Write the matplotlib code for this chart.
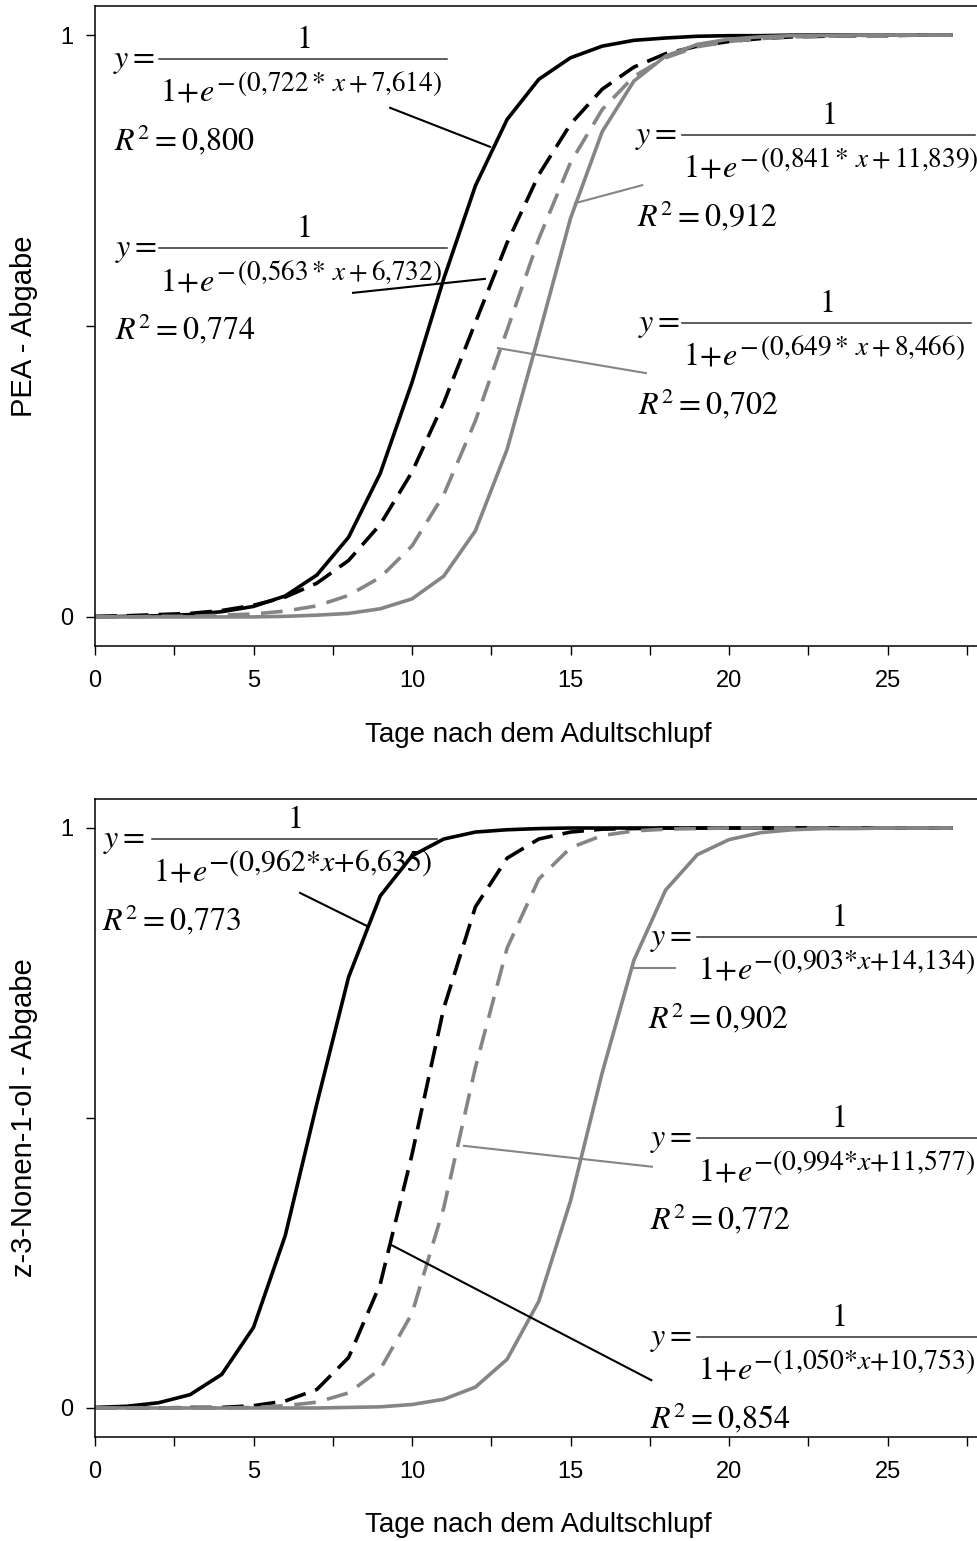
import matplotlib
matplotlib.use("Agg")
import matplotlib.pyplot as plt
from matplotlib.lines import Line2D
from matplotlib.ticker import MultipleLocator, NullLocator

plt.rcParams["font.family"] = ["Liberation Sans", "DejaVu Sans"]
plt.rcParams["mathtext.fontset"] = "stix"

W, H = 977, 1541
GRAY = "#858585"

# Tage 0..27
days = list(range(28))

# PEA - Abgabe (oberes Diagramm)
pea_black_solid = [0.000, 0.001, 0.002, 0.004, 0.009, 0.018, 0.036, 0.072, 0.137, 0.247,
                   0.403, 0.581, 0.741, 0.855, 0.924, 0.961, 0.981, 0.991, 0.995, 0.998,
                   0.999, 0.999, 1.000, 1.000, 1.000, 1.000, 1.000, 1.000]
pea_black_dashed = [0.001, 0.002, 0.004, 0.006, 0.011, 0.020, 0.034, 0.058, 0.097, 0.159,
                    0.249, 0.368, 0.506, 0.643, 0.760, 0.847, 0.907, 0.945, 0.968, 0.981,
                    0.989, 0.994, 0.997, 0.998, 0.999, 0.999, 1.000, 1.000]
pea_gray_dashed = [0.000, 0.000, 0.001, 0.001, 0.003, 0.005, 0.010, 0.019, 0.037, 0.068,
                   0.122, 0.210, 0.337, 0.493, 0.650, 0.781, 0.872, 0.929, 0.961, 0.980,
                   0.989, 0.994, 0.997, 0.998, 0.999, 1.000, 1.000, 1.000]
pea_gray_solid = [0.000, 0.000, 0.000, 0.000, 0.000, 0.000, 0.001, 0.003, 0.006, 0.014,
                  0.031, 0.070, 0.148, 0.288, 0.484, 0.685, 0.834, 0.921, 0.964, 0.984,
                  0.993, 0.997, 0.999, 0.999, 1.000, 1.000, 1.000, 1.000]

# z-3-Nonen-1-ol - Abgabe (unteres Diagramm)
non_black_solid = [0.001, 0.003, 0.009, 0.023, 0.058, 0.139, 0.297, 0.525, 0.743, 0.883,
                   0.952, 0.981, 0.993, 0.997, 0.999, 1.000, 1.000, 1.000, 1.000, 1.000,
                   1.000, 1.000, 1.000, 1.000, 1.000, 1.000, 1.000, 1.000]
non_black_dashed = [0.000, 0.000, 0.000, 0.001, 0.001, 0.004, 0.012, 0.032, 0.087, 0.214,
                    0.437, 0.689, 0.864, 0.948, 0.981, 0.993, 0.998, 0.999, 1.000, 1.000,
                    1.000, 1.000, 1.000, 1.000, 1.000, 1.000, 1.000, 1.000]
non_gray_dashed = [0.000, 0.000, 0.000, 0.000, 0.000, 0.001, 0.004, 0.010, 0.026, 0.067,
                   0.163, 0.345, 0.587, 0.793, 0.912, 0.966, 0.987, 0.995, 0.998, 0.999,
                   1.000, 1.000, 1.000, 1.000, 1.000, 1.000, 1.000, 1.000]
non_gray_solid = [0.000, 0.000, 0.000, 0.000, 0.000, 0.000, 0.000, 0.000, 0.001, 0.002,
                  0.006, 0.015, 0.036, 0.084, 0.184, 0.357, 0.578, 0.772, 0.893, 0.954,
                  0.980, 0.992, 0.997, 0.999, 0.999, 1.000, 1.000, 1.000]

# Gleichungen: (Koeffizient a, b, R2)
pea_eqs = [("0,722", "7,614", "0,800"), ("0,563", "6,732", "0,774"),
           ("0,841", "11,839", "0,912"), ("0,649", "8,466", "0,702")]
non_eqs = [("0,962", "6,635", "0,773"), ("0,903", "14,134", "0,902"),
           ("0,994", "11,577", "0,772"), ("1,050", "10,753", "0,854")]

# Verbindungslinien (Datenkoordinaten)
pea_leaders = [((9.31, 0.875), (12.46, 0.808), "black"),
               ((8.14, 0.557), (12.30, 0.581), "black"),
               ((17.26, 0.742), (15.14, 0.711), GRAY),
               ((17.38, 0.419), (12.71, 0.462), GRAY)]
non_leaders = [((6.47, 0.888), (8.58, 0.831), "black"),
               ((18.30, 0.759), (17.00, 0.759), GRAY),
               ((11.64, 0.452), (17.57, 0.416), GRAY),
               ((9.35, 0.281), (17.55, 0.048), "black")]


def fx(px):
    return px / W


def fy(py):
    return 1 - py / H


fig = plt.figure(figsize=(W / 100, H / 100), dpi=100)


def make_axes(top_px, bottom_px, ylabel):
    ax = fig.add_axes([fx(95), fy(bottom_px), 28 * 31.7 / W, (bottom_px - top_px) / H])
    ax.set_xlim(0, 28)
    ax.set_ylim(-0.05, 1.05)
    ax.xaxis.set_major_locator(MultipleLocator(5))
    ax.xaxis.set_minor_locator(MultipleLocator(2.5))
    ax.yaxis.set_minor_locator(NullLocator())
    ax.set_yticks([0, 0.5, 1])
    ax.set_yticklabels(["0", "", "1"])
    ax.tick_params(axis="both", which="both", direction="out", length=6.5, width=1.0,
                   labelsize=17)
    ax.tick_params(axis="x", which="both", pad=11)
    ax.tick_params(axis="y", pad=9)
    ax.spines["right"].set_visible(False)
    for s in ["left", "bottom", "top"]:
        ax.spines[s].set_linewidth(1.1)
    ax.set_xlabel("Tage nach dem Adultschlupf", fontsize=20)
    ax.xaxis.set_label_coords(0.5, -0.118)
    ax.set_ylabel(ylabel, fontsize=21)
    ax.yaxis.set_label_coords(-0.064, 0.5)
    return ax


def draw_curves(ax, bs, bd, gd, gs):
    ax.plot(days, bs, color="black", lw=2.6, solid_joinstyle="round")
    ax.plot(days, bd, color="black", lw=2.6, dashes=(6, 2.8))
    ax.plot(days, gd, color=GRAY, lw=2.6, dashes=(6, 3.2))
    ax.plot(days, gs, color=GRAY, lw=2.6, solid_joinstyle="round")


def draw_leaders(ax, leaders):
    for (x0, y0), (x1, y1), c in leaders:
        ax.plot([x0, x1], [y0, y1], color=c, lw=1.5, zorder=4)


def equation(ax, eq, y_x, L, x0, x1, r2_x, exp_size, condensed):
    a, b, r2 = eq
    fs = 23
    fig.text(fx(y_x), fy(L + 8), r"$y=$", fontsize=fs, va="baseline")
    fig.add_artist(Line2D([fx(x0), fx(x1)], [fy(L), fy(L)], color="#303030", lw=1.1))
    fig.text(fx((x0 + x1) / 2), fy(L - 11), r"$1$", fontsize=fs, ha="center", va="baseline")
    den = fig.text(fx(x0 + 1), fy(L + 42), r"$1\hspace{0.03}{+}\hspace{0.03}e$", fontsize=fs,
                   va="baseline")
    a_m = a.replace(",", "{,}")
    b_m = b.replace(",", "{,}")
    if condensed:
        ex = r"$-(" + a_m + r"{*}x{+}" + b_m + ")$"
        off = 0.5
    else:
        ex = r"$-\,(" + a_m + r"*\,x+" + b_m + ")$"
        off = 1.0
    ax.annotate(ex, xy=(1, 0), xycoords=den, xytext=(off, 12.5), textcoords="offset points",
                fontsize=exp_size, va="baseline", ha="left")
    fig.text(fx(r2_x), fy(L + 91), r"$R^2=" + r2.replace(",", "{,}") + "$", fontsize=fs,
             va="baseline")


# oberes Diagramm
ax1 = make_axes(6, 646, "PEA - Abgabe")
draw_curves(ax1, pea_black_solid, pea_black_dashed, pea_gray_dashed, pea_gray_solid)
draw_leaders(ax1, pea_leaders)
equation(ax1, pea_eqs[0], 113, 59, 159, 447, 114, 19.5, False)
equation(ax1, pea_eqs[1], 115, 248, 159, 447, 115, 19.5, False)
equation(ax1, pea_eqs[2], 635, 135, 682, 975, 637, 19.5, False)
equation(ax1, pea_eqs[3], 638, 323, 682, 971, 638, 19.5, False)

# unteres Diagramm
ax2 = make_axes(799, 1437, "z-3-Nonen-1-ol - Abgabe")
draw_curves(ax2, non_black_solid, non_black_dashed, non_gray_dashed, non_gray_solid)
draw_leaders(ax2, non_leaders)
equation(ax2, non_eqs[0], 103, 839, 152, 437, 102, 21.5, True)
equation(ax2, non_eqs[1], 650, 937, 697, 979, 648, 20, True)
equation(ax2, non_eqs[2], 650, 1138, 697, 979, 650, 20, True)
equation(ax2, non_eqs[3], 650, 1337, 697, 979, 650, 20, True)

fig.savefig("out.png", dpi=100)
